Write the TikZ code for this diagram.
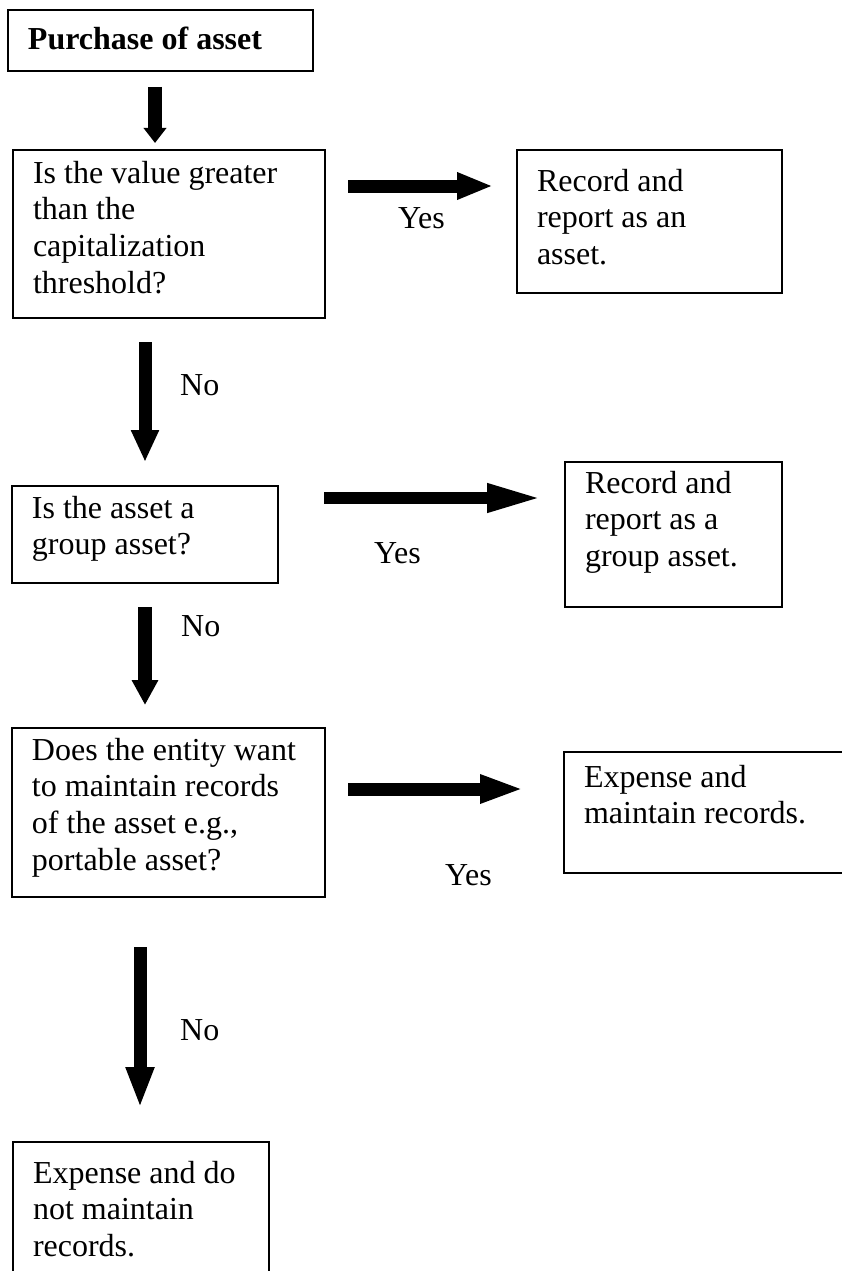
\documentclass[tikz,border=0pt]{standalone}
\usepackage{fontspec}
\setmainfont{Liberation Serif}
\usetikzlibrary{arrows.meta,calc}

% box text: width, height, offset of first baseline from the top, lines
\newcommand\flowtext[4]{%
  \parbox[b][#2pt][t]{#1pt}{\raggedright\leftskip=20pt\relax
    \vspace*{\dimexpr #3pt-25.76pt\relax}\strut #4}}

\tikzset{
  flowbox/.style={draw=black, line width=2pt, rectangle, inner sep=0pt,
    outer sep=0pt, anchor=north west},
  lbl/.style={anchor=base west, inner sep=0pt},
  blockarrow/.style n args={3}{-{Triangle[width=#2pt,length=#3pt]},
    line width=#1pt, line cap=butt},
}

\begin{document}
\begin{tikzpicture}[x=1pt, y=-1pt,
  every node/.style={font=\fontsize{32}{36.8}\selectfont}]
\useasboundingbox (0,0) rectangle (842,1271);
\clip (0,0) rectangle (842,1271);

% decision and outcome boxes
\node[flowbox] (start) at (8,10)
  {\flowtext{305}{61}{40}{\textbf{Purchase of asset}}};
\node[flowbox] (q1) at (13,150)
  {\flowtext{312}{168}{33}{Is the value greater\\than the\\capitalization\\threshold?}};
\node[flowbox] (r1) at (517,150)
  {\flowtext{265}{143}{41}{Record and\\report as an\\asset.}};
\node[flowbox] (q2) at (12,486)
  {\flowtext{266}{97}{32}{Is the asset a\\group asset?}};
\node[flowbox] (r2) at (565,462)
  {\flowtext{217}{145}{31}{Record and\\report as a\\group asset.}};
\node[flowbox] (q3) at (12,728)
  {\flowtext{313}{169}{32}{Does the entity want\\to maintain records\\of the asset e.g.,\\portable asset?}};
\node[flowbox] (r3) at (564,752)
  {\flowtext{300}{121}{35}{Expense and\\maintain records.}};
\node[flowbox] (r4) at (13,1142)
  {\flowtext{256}{160}{41}{Expense and do\\not maintain\\records.}};

% arrow end points
\coordinate (a1s) at (155,87);   \coordinate (a1e) at (155,143);
\coordinate (y1s) at (348,186);  \coordinate (y1e) at (493,186);
\coordinate (n1s) at (145,342);  \coordinate (n1e) at (145,462);
\coordinate (y2s) at (324,498);  \coordinate (y2e) at (543,498);
\coordinate (n2s) at (145,607);  \coordinate (n2e) at (145,705);
\coordinate (y3s) at (348,789);  \coordinate (y3e) at (524,789);
\coordinate (n3s) at (140,947);  \coordinate (n3e) at (140,1108);

% block arrows
\draw[blockarrow={14}{22}{15}] (a1s) -- (a1e);
\draw[blockarrow={13}{25}{36}] (y1s) -- (y1e);
\draw[blockarrow={13}{26}{32}] (n1s) -- (n1e);
\draw[blockarrow={12}{26}{56}] (y2s) -- (y2e);
\draw[blockarrow={14}{25}{25}] (n2s) -- (n2e);
\draw[blockarrow={13}{26}{44}] (y3s) -- (y3e);
\draw[blockarrow={13}{26}{41}] (n3s) -- (n3e);

% branch labels
\node[lbl] (ly1) at (398,228) {Yes};
\node[lbl] (ln1) at (180,395) {No};
\node[lbl] (ly2) at (374,563) {Yes};
\node[lbl] (ln2) at (181,636) {No};
\node[lbl] (ly3) at (445,885) {Yes};
\node[lbl] (ln3) at (180,1040) {No};
\end{tikzpicture}
\end{document}
